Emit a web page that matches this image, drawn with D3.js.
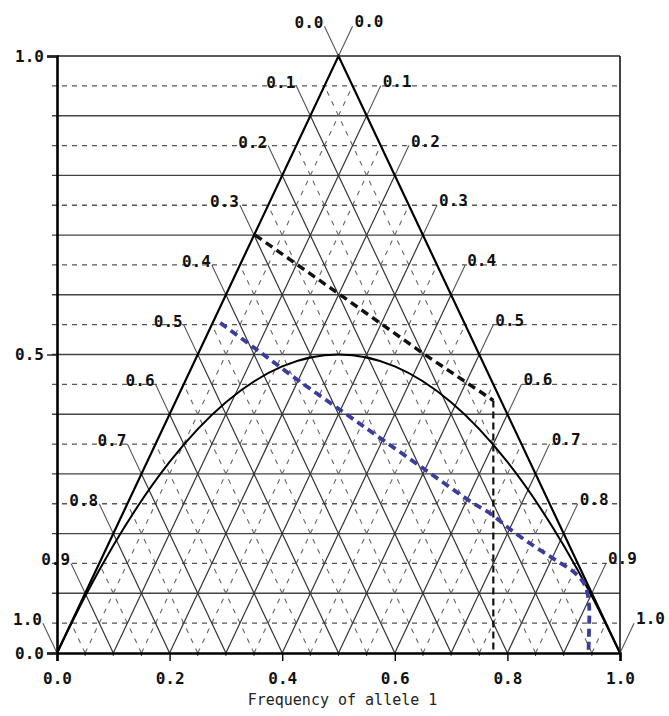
<!DOCTYPE html>
<html>
<head>
<meta charset="utf-8">
<script src="https://cdn.jsdelivr.net/npm/d3@7"></script>
<style>
  body { margin: 0; background: #fff; }
  svg { display: block; }
  .lab { font-family: "DejaVu Sans Mono", monospace; font-weight: bold; font-size: 16px; fill: #111; }
</style>
</head>
<body>
<script>
// chart size and plot box (pixels)
const width = 669,
  height = 716,
  boxLeft = 57, boxRight = 620, boxTop = 56, boxBottom = 653;

// values
const solidLevels = [0.1, 0.2, 0.3, 0.4, 0.5, 0.6, 0.7, 0.8, 0.9];
const dashedLevels = [0.05, 0.15, 0.25, 0.35, 0.45, 0.55, 0.65, 0.75, 0.85, 0.95];
const sideStops = [0, 0.1, 0.2, 0.3, 0.4, 0.5, 0.6, 0.7, 0.8, 0.9, 1.0];
const leftSideLabels = ["1.0", "0.9", "0.8", "0.7", "0.6", "0.5", "0.4", "0.3", "0.2", "0.1", "0.0"];
const rightSideLabels = ["0.0", "0.1", "0.2", "0.3", "0.4", "0.5", "0.6", "0.7", "0.8", "0.9", "1.0"];
const xTicks = [0, 0.2, 0.4, 0.6, 0.8, 1.0];
const xMinorTicks = [0.05, 0.1, 0.15, 0.25, 0.3, 0.35, 0.45, 0.5, 0.55, 0.65, 0.7, 0.75, 0.85, 0.9, 0.95];
const yTicks = [0, 0.5, 1.0];

// Hardy-Weinberg curve (allele freq, heterozygote freq)
const hwCurve = [[0, 0], [0.05, 0.095], [0.1, 0.18], [0.2, 0.32], [0.3, 0.42], [0.4, 0.48],
  [0.5, 0.5], [0.6, 0.48], [0.7, 0.42], [0.8, 0.32], [0.9, 0.18], [0.95, 0.095], [1, 0]];

// black dashed path and its drop line
const blackPath = [[0.352, 0.70], [0.503, 0.60], [0.65, 0.502], [0.775, 0.423]];
const blackDrop = [[0.775, 0.423], [0.775, 0]];

// blue dashed path
const bluePath = [[0.29, 0.553], [0.355, 0.508], [0.428, 0.457], [0.508, 0.404], [0.574, 0.36],
  [0.654, 0.307], [0.731, 0.256], [0.772, 0.232], [0.808, 0.205], [0.849, 0.178],
  [0.885, 0.156], [0.92, 0.134], [0.938, 0.113], [0.945, 0.08], [0.945, 0.04], [0.944, 0]];

const axisTitle = "Frequency of allele 1";

const x = d3.scaleLinear().domain([0, 1]).range([boxLeft, boxRight]);
const y = d3.scaleLinear().domain([0, 1]).range([boxBottom, boxTop]);

const svg = d3.select("body").append("svg")
  .attr("width", width)
  .attr("height", height);

const line = d3.line().x(d => x(d[0])).y(d => y(d[1]));

// horizontal grid lines across the whole box
svg.append("g").selectAll("line")
  .data(dashedLevels).join("line")
  .attr("x1", x(0) - 5).attr("x2", x(1))
  .attr("y1", d => y(d)).attr("y2", d => y(d))
  .attr("stroke", "#555").attr("stroke-width", 1.3)
  .attr("stroke-dasharray", "5,5");

svg.append("g").selectAll("line")
  .data(solidLevels).join("line")
  .attr("x1", x(0) - 5).attr("x2", x(1))
  .attr("y1", d => y(d)).attr("y2", d => y(d))
  .attr("stroke", "#444").attr("stroke-width", 1.4);

// dashed lattice inside the triangle (half steps)
const lattice = svg.append("g");
lattice.selectAll(".dl").data(dashedLevels).join("line")
  .attr("x1", d => x(d)).attr("y1", y(0))
  .attr("x2", d => x((1 + d) / 2)).attr("y2", d => y(1 - d))
  .attr("stroke", "#666").attr("stroke-width", 1.1).attr("stroke-dasharray", "5,6");
lattice.selectAll(".dr").data(dashedLevels).join("line")
  .attr("x1", d => x(d)).attr("y1", y(0))
  .attr("x2", d => x(d / 2)).attr("y2", d => y(d))
  .attr("stroke", "#666").attr("stroke-width", 1.1).attr("stroke-dasharray", "5,6");

// solid lattice lines parallel to each side
lattice.selectAll(".sl").data(solidLevels).join("line")
  .attr("x1", d => x(d)).attr("y1", y(0))
  .attr("x2", d => x((1 + d) / 2)).attr("y2", d => y(1 - d))
  .attr("stroke", "#333").attr("stroke-width", 1.2);
lattice.selectAll(".sr").data(solidLevels).join("line")
  .attr("x1", d => x(d)).attr("y1", y(0))
  .attr("x2", d => x(d / 2)).attr("y2", d => y(d))
  .attr("stroke", "#333").attr("stroke-width", 1.2);

// leaders and labels on the left side (lines parallel to the right side)
const lead = svg.append("g");
lead.selectAll("line.l").data(sideStops).join("line")
  .attr("x1", d => x(d / 2)).attr("y1", d => y(d))
  .attr("x2", d => x(d / 2 - 0.025)).attr("y2", d => y(d + 0.05))
  .attr("stroke", "#555").attr("stroke-width", 1.1);
lead.selectAll("text.l").data(sideStops).join("text")
  .attr("class", "lab")
  .attr("x", d => x(d / 2 - 0.025) - 1)
  .attr("y", d => y(d + 0.05) + 2)
  .attr("text-anchor", "end")
  .text((d, i) => leftSideLabels[i]);

// leaders and labels on the right side (lines parallel to the left side)
lead.selectAll("line.r").data(sideStops).join("line")
  .attr("x1", d => x((1 + d) / 2)).attr("y1", d => y(1 - d))
  .attr("x2", d => x((1 + d) / 2 + 0.025)).attr("y2", d => y(1 - d + 0.05))
  .attr("stroke", "#555").attr("stroke-width", 1.1);
lead.selectAll("text.r").data(sideStops).join("text")
  .attr("class", "lab")
  .attr("x", d => x((1 + d) / 2 + 0.025) + 2)
  .attr("y", d => y(1 - d + 0.05) + 1)
  .attr("text-anchor", "start")
  .text((d, i) => rightSideLabels[i]);

// triangle
svg.append("path")
  .attr("d", line([[0, 0], [0.5, 1], [1, 0]]))
  .attr("fill", "none").attr("stroke", "#000").attr("stroke-width", 2.2);

// Hardy-Weinberg parabola
svg.append("path")
  .attr("d", line.curve(d3.curveMonotoneX)(hwCurve))
  .attr("fill", "none").attr("stroke", "#000").attr("stroke-width", 2);
line.curve(d3.curveLinear);

// black dashed path and drop
svg.append("path")
  .attr("d", line(blackPath))
  .attr("fill", "none").attr("stroke", "#111").attr("stroke-width", 3.4)
  .attr("stroke-dasharray", "8,5");
svg.append("path")
  .attr("d", line(blackDrop))
  .attr("fill", "none").attr("stroke", "#111").attr("stroke-width", 2.2)
  .attr("stroke-dasharray", "7,4");

// blue dashed path
svg.append("path")
  .attr("d", line.curve(d3.curveCatmullRom)(bluePath))
  .attr("fill", "none").attr("stroke", "#3a3d9b").attr("stroke-width", 3.8)
  .attr("stroke-dasharray", "8,5");
line.curve(d3.curveLinear);

// box: top and right borders
svg.append("line")
  .attr("x1", x(0)).attr("x2", x(1)).attr("y1", y(1)).attr("y2", y(1))
  .attr("stroke", "#222").attr("stroke-width", 1.7);
svg.append("line")
  .attr("x1", x(1)).attr("x2", x(1)).attr("y1", y(1)).attr("y2", y(0))
  .attr("stroke", "#222").attr("stroke-width", 1.7);

// bottom axis
svg.append("g").selectAll("line")
  .data(xMinorTicks).join("line")
  .attr("x1", d => x(d)).attr("x2", d => x(d))
  .attr("y1", y(0)).attr("y2", y(0) + 3)
  .attr("stroke", "#333").attr("stroke-width", 1);

const xAxis = svg.append("g")
  .attr("transform", `translate(0,${y(0)})`)
  .call(d3.axisBottom(x).tickValues(xTicks).tickFormat(d3.format(".1f")).tickSize(8).tickPadding(12));
xAxis.select(".domain").attr("stroke", "#000").attr("stroke-width", 2.6);
xAxis.selectAll(".tick line").attr("stroke", "#000").attr("stroke-width", 1.4);
xAxis.selectAll(".tick text").attr("class", "lab").attr("fill", "#111");

// left axis
const yAxis = svg.append("g")
  .attr("transform", `translate(${x(0)},0)`)
  .call(d3.axisLeft(y).tickValues(yTicks).tickFormat(d3.format(".1f")).tickSize(10).tickPadding(3));
yAxis.select(".domain").attr("stroke", "#000").attr("stroke-width", 2.6);
yAxis.selectAll(".tick line").attr("stroke", "#222").attr("stroke-width", 1.4);
yAxis.selectAll(".tick text").attr("class", "lab").attr("fill", "#111");

// axis title
svg.append("text")
  .attr("x", (x(0) + x(1)) / 2 + 4)
  .attr("y", 705)
  .attr("text-anchor", "middle")
  .style("font-family", "'DejaVu Sans Mono', monospace")
  .style("font-size", "15px")
  .attr("fill", "#222")
  .text(axisTitle);
</script>
</body>
</html>
